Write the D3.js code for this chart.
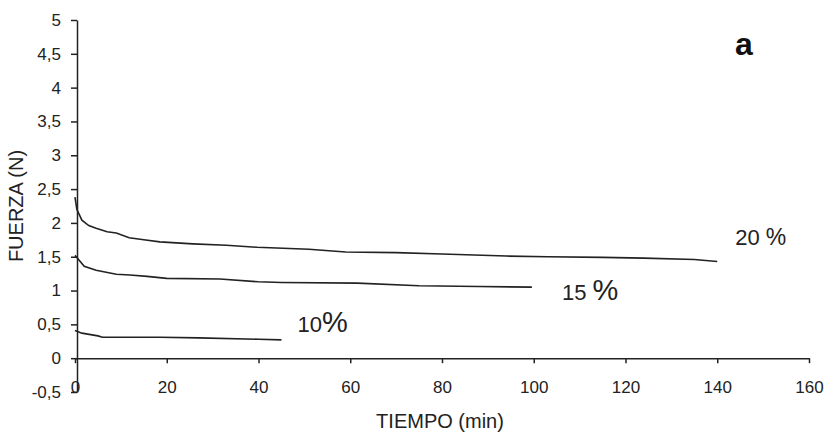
<!DOCTYPE html>
<html>
<head>
<meta charset="utf-8">
<script src="https://cdn.jsdelivr.net/npm/d3@7"></script>
<style>
  body { margin: 0; background: #fff; }
  svg { display: block; font-family: 'Liberation Sans', Arial, sans-serif; }
  .axis path, .axis line { stroke: #222; stroke-width: 1.5px; }
  .axis text { fill: #222; font-size: 17px; }
</style>
</head>
<body>
<svg width="828" height="435"></svg>
<script>
// time (min) and force (N)
const t20 = [0, 0.4, 1.5, 3, 4.6, 7, 9, 11.8, 15, 18.5, 25.7, 33, 39.7, 51, 59, 70, 80, 94, 103, 115, 124, 135, 140];
const f20 = [2.38, 2.2, 2.04, 1.96, 1.92, 1.87, 1.85, 1.78, 1.75, 1.72, 1.69, 1.67, 1.64, 1.61, 1.57, 1.56, 1.54, 1.51, 1.5, 1.49, 1.48, 1.46, 1.43];
const t15 = [0, 0.5, 2, 4.6, 9, 12, 15.7, 20, 31.6, 40, 45, 61.5, 75, 88, 99.6];
const f15 = [1.52, 1.48, 1.36, 1.3, 1.24, 1.23, 1.21, 1.18, 1.17, 1.13, 1.12, 1.11, 1.07, 1.06, 1.05];
const t10 = [0, 1.5, 5, 6, 18.5, 27, 40, 45];
const f10 = [0.41, 0.37, 0.33, 0.31, 0.31, 0.3, 0.28, 0.27];
const seriesNames = ['20', '15', '10'];
const xTicks = [0, 20, 40, 60, 80, 100, 120, 140, 160];
const yTicks = [-0.5, 0, 0.5, 1, 1.5, 2, 2.5, 3, 3.5, 4, 4.5, 5];

const svg = d3.select('svg');
const x = d3.scaleLinear().domain([0, 160]).range([75, 809]);
const y = d3.scaleLinear().domain([-0.5, 5]).range([392, 20]);

const series = [
  { name: seriesNames[0], t: t20, f: f20, dx: 18, dy: -16, gap: ' ', big: false },
  { name: seriesNames[1], t: t15, f: f15, dx: 30, dy: 13, gap: ' ', big: true },
  { name: seriesNames[2], t: t10, f: f10, dx: 16, dy: -8, gap: '', big: true }
];

// x axis drawn on y = 0
svg.append('g')
  .attr('class', 'axis')
  .attr('transform', `translate(0, ${y(0)})`)
  .call(d3.axisBottom(x).tickValues(xTicks).tickSize(5).tickSizeOuter(0).tickFormat(d3.format('d')))
  .call(g => g.selectAll('text').attr('y', 35).attr('dy', 0));

svg.append('g')
  .attr('class', 'axis')
  .attr('transform', `translate(${x(0) + 2}, 0)`)
  .call(d3.axisLeft(y).tickValues(yTicks).tickSize(6).tickSizeOuter(0).tickPadding(10)
    .tickFormat(d => String(d).replace('.', ',')));

const line = d3.line()
  .x(d => x(d[0]))
  .y(d => y(d[1]));

series.forEach(s => {
  const pts = s.t.map((t, i) => [t, s.f[i]]);
  svg.append('path')
    .datum(pts)
    .attr('fill', 'none')
    .attr('stroke', '#222')
    .attr('stroke-width', 1.6)
    .attr('d', line);

  const last = pts[pts.length - 1];
  const lbl = svg.append('text')
    .attr('x', x(last[0]) + s.dx)
    .attr('y', y(last[1]) + s.dy)
    .attr('fill', '#222')
    .style('font-size', '22px');
  lbl.append('tspan').text(s.name + s.gap);
  lbl.append('tspan')
    .style('font-size', s.big ? '29px' : '23px')
    .text('%');
});

svg.append('text')
  .attr('transform', `translate(23, 206) rotate(-90)`)
  .attr('text-anchor', 'middle')
  .attr('fill', '#222')
  .style('font-size', '20px')
  .text('FUERZA (N)');

svg.append('text')
  .attr('x', 440)
  .attr('y', 428)
  .attr('text-anchor', 'middle')
  .attr('fill', '#222')
  .style('font-size', '20px')
  .text('TIEMPO (min)');

svg.append('text')
  .attr('x', 735)
  .attr('y', 55)
  .attr('fill', '#111')
  .style('font-size', '32px')
  .style('font-weight', 'bold')
  .text('a');
</script>
</body>
</html>
